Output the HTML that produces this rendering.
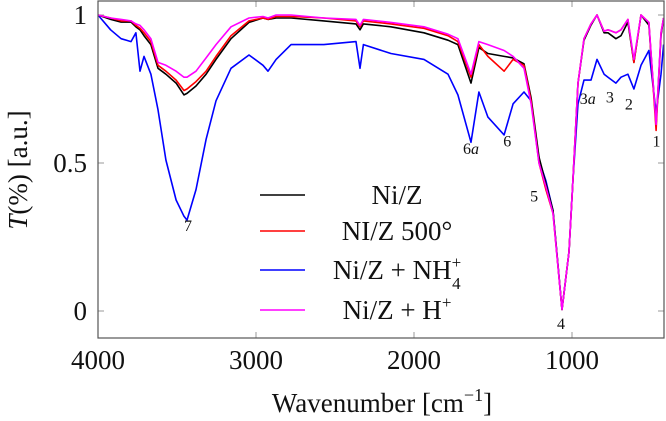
<!DOCTYPE html>
<html><head><meta charset="utf-8"><style>
html,body{margin:0;padding:0;background:#fff;}
svg{display:block;font-family:"Liberation Serif",serif;}
</style></head><body>
<svg id="chart" width="666" height="421" viewBox="0 0 666 421">
<g id="plot"></g>
</svg>
<script>
const wavenumbers=[4000,3920,3854,3791,3760,3734,3709,3665,3620,3570,3506,3456,3437,3380,3316,3253,3158,3044,2956,2924,2873,2778,2570,2367,2342,2320,2146,1937,1785,1722,1639,1589,1532,1430,1373,1304,1259,1209,1165,1120,1063,1019,994,962,924,880,842,797,772,722,690,646,608,563,513,468,437,420];
const seriesNiZ=[1,.985,.976,.976,.96,.95,.93,.90,.82,.80,.77,.73,.735,.76,.80,.85,.92,.975,.99,.985,.99,.99,.98,.97,.95,.97,.96,.94,.915,.90,.77,.89,.87,.86,.855,.835,.72,.52,.43,.34,.005,.2,.44,.77,.915,.966,1,.94,.94,.92,.93,.976,.84,1,.966,.63,.93,.99];
const seriesNiZ500=[1,.99,.98,.98,.965,.955,.94,.91,.83,.81,.78,.745,.75,.775,.81,.86,.93,.98,.99,.985,.995,.995,.99,.98,.96,.98,.97,.955,.93,.91,.79,.90,.86,.81,.85,.83,.71,.50,.41,.33,.005,.2,.44,.77,.92,.97,1,.945,.95,.94,.95,.985,.84,1,.975,.61,.94,.99];
const seriesNH4=[1,.95,.92,.91,.94,.81,.86,.80,.68,.51,.375,.32,.307,.41,.58,.71,.82,.865,.83,.81,.85,.90,.90,.91,.82,.90,.87,.85,.80,.73,.57,.74,.655,.595,.70,.74,.71,.51,.44,.34,.005,.2,.44,.70,.78,.78,.85,.80,.79,.77,.79,.80,.75,.83,.88,.67,.80,.90];
const seriesH=[1,.99,.985,.98,.97,.965,.95,.92,.84,.83,.81,.79,.79,.81,.855,.90,.96,.99,.995,.99,1,1,.99,.985,.965,.985,.975,.96,.935,.92,.80,.91,.90,.88,.86,.82,.70,.50,.42,.33,.005,.2,.44,.77,.92,.97,1,.945,.95,.94,.95,.985,.85,1,.975,.63,.94,.99];
const xTicks=[4000,3000,2000,1000];
const xTickLabels=["4000","3000","2000","1000"];
const yTicks=[0,0.5,1];
const yTickLabels=["0","0.5","1"];
const legendLabels=["Ni/Z","NI/Z 500°","Ni/Z + NH<tspan font-size='17' dy='-11'>+</tspan><tspan font-size='17' dx='-9' dy='21'>4</tspan>","Ni/Z + H<tspan font-size='17' dy='-11'>+</tspan>"];
const peakLabels=[["7",3430,0.27],["6a",1639,0.53],["6",1410,0.555],["5",1240,0.37],["4",1070,-0.06],["3a",900,0.70],["3",760,0.705],["2",640,0.68],["1",465,0.555]];

const L=98,R=664,T=1,B=338;
const xs=w=>L+(4000-w)*0.158;
const ys=v=>311-v*296;
const NS="http://www.w3.org/2000/svg";
const svg=document.getElementById('chart');
function mk(tag,attrs,parent){const e=document.createElementNS(NS,tag);for(const k in attrs)e.setAttribute(k,attrs[k]);(parent||svg).appendChild(e);return e;}

xTicks.forEach((t,i)=>{
  let a=mk('line',{x1:xs(t),x2:xs(t),y1:B,y2:B-6,stroke:'#999','stroke-width':1});
  
  
  let b=mk('line',{x1:xs(t),x2:xs(t),y1:T,y2:T+6,stroke:'#999','stroke-width':1});
  
  
  let tx=mk('text',{x:xs(t),y:369,'font-size':27,'text-anchor':'middle',fill:'#111'});
  tx.textContent=xTickLabels[i];
  
  
});
yTicks.forEach((t,i)=>{
  let a=mk('line',{x1:L,x2:L+6,y1:ys(t),y2:ys(t),stroke:'#999','stroke-width':1});
  
  
  let b=mk('line',{x1:R,x2:R-6,y1:ys(t),y2:ys(t),stroke:'#999','stroke-width':1});
  
  
  let tx=mk('text',{x:87,y:ys(t)+9,'font-size':27,'text-anchor':'end',fill:'#111'});
  tx.textContent=yTickLabels[i];
  
  
});

const series=[[seriesNiZ,'#000'],[seriesNiZ500,'#ff0000'],[seriesNH4,'#0000ff'],[seriesH,'#ff00ff']];
const names=['series-ni-z','series-ni-z-500','series-ni-z-nh4','series-ni-z-h'];
const order=[2,0,1,3];
order.forEach(si=>{
  const [vals,col]=series[si];
  const d=wavenumbers.map((w,i)=>(i?'L':'M')+xs(w).toFixed(1)+','+ys(vals[i]).toFixed(1)).join(' ');
  let p=mk('path',{d:d,fill:'none',stroke:col,'stroke-width':1.6,'stroke-linejoin':'round'});
  
  
});

peakLabels.forEach(pl=>{
  let t=mk('text',{x:xs(pl[1]),y:ys(pl[2]),'font-size':16,'text-anchor':'middle',fill:'#111'});
  if(pl[0].endsWith('a')){t.innerHTML=pl[0].slice(0,-1)+"<tspan font-style='italic'>a</tspan>";}else t.textContent=pl[0];
  
  
});

let fr=mk('rect',{x:L,y:T,width:R-L,height:B-T,fill:'none',stroke:'#555','stroke-width':1.2});



const lg=mk('g',{});


const legY=[195,231,270,310];
const legCols=['#000','#ff0000','#0000ff','#ff00ff'];
legendLabels.forEach((lab,i)=>{
  let ln=mk('line',{x1:260,x2:305,y1:legY[i],y2:legY[i],stroke:legCols[i],'stroke-width':1.6},lg);
  
  
  let tx=mk('text',{x:397,y:legY[i]+9,'font-size':27,'text-anchor':'middle',fill:'#111'},lg);
  tx.innerHTML=lab;
  
  
});

let xt=mk('text',{x:382,y:412,'font-size':27,'text-anchor':'middle',fill:'#111'});
xt.innerHTML="Wavenumber [cm<tspan font-size='18' dy='-11'>−1</tspan><tspan dy='11'>]</tspan>";


let yt=mk('text',{x:0,y:0,'font-size':27,'text-anchor':'middle',fill:'#111',transform:'translate(27,170) rotate(-90)'});
yt.innerHTML="<tspan font-style='italic'>T</tspan>(%) [a.u.]";


</script>
</body></html>
